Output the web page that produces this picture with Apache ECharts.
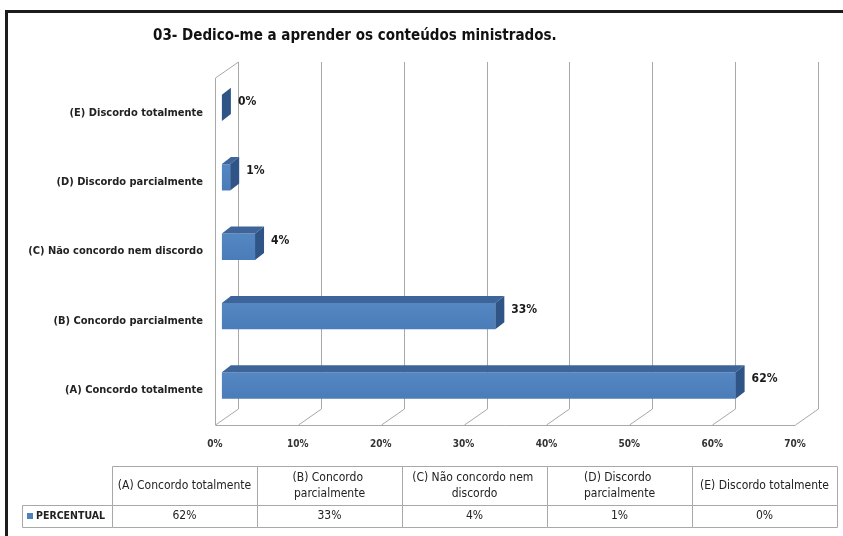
<!DOCTYPE html>
<html lang="pt">
<head>
<meta charset="UTF-8">
<title>Dedico-me a aprender</title>
<script src="https://cdn.jsdelivr.net/npm/echarts@6/dist/echarts.min.js"></script>
<style>
  html, body { margin: 0; padding: 0; background: #fff; }
  #main { width: 843px; height: 536px; }
</style>
</head>
<body>
<div id="main"></div>
<script>
  // dados do gráfico
  const titulo = '03- Dedico-me a aprender os conteúdos ministrados.';
  const categorias = ['(A) Concordo totalmente', '(B) Concordo parcialmente', '(C) Não concordo nem discordo', '(D) Discordo parcialmente', '(E) Discordo totalmente'];
  const percentual = [62, 33, 4, 1, 0];
  const serieNome = 'PERCENTUAL';
  const xTicks = [0, 10, 20, 30, 40, 50, 60, 70];

  const fonte = "'DejaVu Sans Condensed', 'Liberation Sans Narrow', sans-serif";
  const DX = 23, DY = -16;   // profundidade das paredes
  const BAR_D = 0.3;         // onde fica a frente da barra
  const BX = 9, BY = -7;     // espessura 3D da barra
  const linha = '#A8A8A8';

  let chart = echarts.init(document.getElementById('main'));

  // paredes e linhas de grade do fundo
  function renderParede(params, api) {
    let cs = params.coordSys;
    let x = Math.round(api.coord([api.value(0), 0])[0]) + 0.5;
    let top = cs.y, bot = cs.y + cs.height;
    let st = { stroke: linha, lineWidth: 1, fill: null };
    let kids = [
      { type: 'line', shape: { x1: x + DX, y1: top + DY, x2: x + DX, y2: bot + DY }, style: st },
      { type: 'line', shape: { x1: x, y1: bot, x2: x + DX, y2: bot + DY }, style: st }
    ];
    if (params.dataIndex === 0) {
      let xEnd = Math.round(api.coord([xTicks[xTicks.length - 1], 0])[0]) + 0.5;
      kids.push({ type: 'line', shape: { x1: x, y1: top, x2: x, y2: bot }, style: st });
      kids.push({ type: 'line', shape: { x1: x, y1: top, x2: x + DX, y2: top + DY }, style: st });
      kids.push({ type: 'line', shape: { x1: x, y1: Math.round(bot) + 0.5, x2: xEnd, y2: Math.round(bot) + 0.5 }, style: st });
    }
    return { type: 'group', children: kids };
  }

  // barras 3D
  function renderBarra(params, api) {
    let v = api.value(0), i = api.value(1);
    let p0 = api.coord([0, i]);
    let p1 = api.coord([v, i]);
    let h = api.size([0, 1])[1] * 0.38;
    let ox = DX * BAR_D, oy = DY * BAR_D;
    let xl = p0[0] + ox, xr = p1[0] + ox;
    let yt = p0[1] + oy - h / 2, yb = yt + h;
    return {
      type: 'group',
      children: [
        { type: 'rect', shape: { x: xl, y: yt, width: xr - xl, height: h },
          style: { fill: new echarts.graphic.LinearGradient(0, 0, 0, 1, [
            { offset: 0, color: '#5587C3' }, { offset: 1, color: '#4A7CB9' }]) } },
        { type: 'polygon', shape: { points: [[xl, yt], [xr, yt], [xr + BX, yt + BY], [xl + BX, yt + BY]] },
          style: { fill: '#3D659A' } },
        { type: 'polygon', shape: { points: [[xr, yt], [xr + BX, yt + BY], [xr + BX, yb + BY], [xr, yb]] },
          style: { fill: '#2F5486' } },
        { type: 'text', x: xr + BX + 7, y: yt + 7,
          style: { text: v + '%', fill: '#1a1a1a', font: 'bold 12px ' + fonte, verticalAlign: 'middle' } }
      ]
    };
  }

  // tabela de dados
  let tabX = 112, colW = 145, topo = 466, h1 = 39, h2 = 22, rotuloX = 22;
  let tabela = [];
  categorias.forEach((c, i) => {
    let x = tabX + i * colW;
    tabela.push({ type: 'rect', shape: { x: x + 0.5, y: topo + 0.5, width: colW, height: h1 },
      style: { fill: '#fff', stroke: linha } });
    tabela.push({ type: 'text', x: x + colW / 2, y: topo + h1 / 2,
      style: { text: c, width: 138, overflow: 'break', align: 'center', verticalAlign: 'middle',
        lineHeight: 16, font: '12px ' + fonte, fill: '#222' } });
    tabela.push({ type: 'rect', shape: { x: x + 0.5, y: topo + h1 + 0.5, width: colW, height: h2 },
      style: { fill: '#fff', stroke: linha } });
    tabela.push({ type: 'text', x: x + colW / 2, y: topo + h1 + h2 / 2,
      style: { text: percentual[i] + '%', align: 'center', verticalAlign: 'middle',
        font: '12px ' + fonte, fill: '#222' } });
  });
  tabela.push({ type: 'rect', shape: { x: rotuloX + 0.5, y: topo + h1 + 0.5, width: tabX - rotuloX, height: h2 },
    style: { fill: '#fff', stroke: linha } });
  tabela.push({ type: 'rect', shape: { x: rotuloX + 5, y: topo + h1 + 8, width: 6, height: 6 },
    style: { fill: '#4F81BD' } });
  tabela.push({ type: 'text', x: rotuloX + 14, y: topo + h1 + h2 / 2,
    style: { text: serieNome, verticalAlign: 'middle', font: 'bold 10.5px ' + fonte, fill: '#222' } });

  let option = {
    animation: false,
    backgroundColor: '#fff',
    title: {
      text: titulo,
      left: 148,
      top: 24,
      textStyle: { fontSize: 15, fontWeight: 'bold', fontFamily: fonte, color: '#111' }
    },
    grid: { left: 215, right: 48, top: 78, bottom: 111 },
    xAxis: {
      type: 'value',
      min: 0, max: 70, interval: 10,
      axisLine: { show: false },
      axisTick: { show: false },
      splitLine: { show: false },
      axisLabel: { formatter: '{value}%', margin: 14, fontSize: 10, fontWeight: 'bold',
        fontFamily: fonte, color: '#333' }
    },
    yAxis: {
      type: 'category',
      data: categorias,
      axisLine: { show: false },
      axisTick: { show: false },
      splitLine: { show: false },
      axisLabel: { margin: 12, fontSize: 11, fontWeight: 'bold', fontFamily: fonte, color: '#222',
        padding: [6, 0, 0, 0] }
    },
    series: [
      { type: 'custom', name: 'grade', z: 1, silent: true,
        data: xTicks.map(t => [t, 0]), renderItem: renderParede },
      { type: 'custom', name: serieNome, z: 2,
        data: percentual.map((v, i) => [v, i]), renderItem: renderBarra }
    ],
    graphic: [
      { type: 'rect', shape: { x: 6.5, y: 11.5, width: 900, height: 600 },
        style: { fill: null, stroke: '#1c1c1c', lineWidth: 3 }, z: 10 },
      { type: 'group', children: tabela }
    ]
  };

  chart.setOption(option);
</script>
</body>
</html>
